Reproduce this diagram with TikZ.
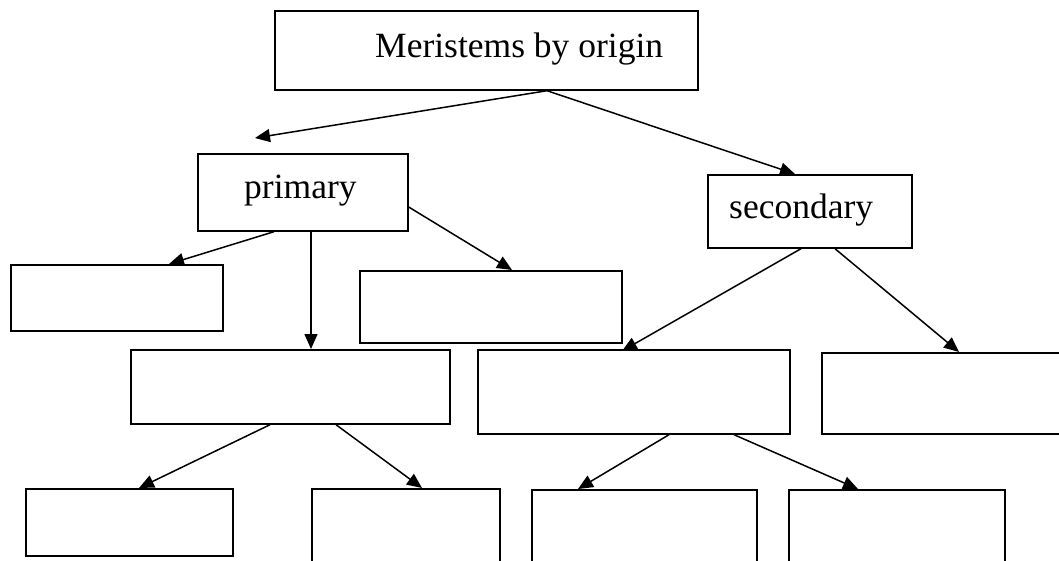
\documentclass[tikz,border=0pt]{standalone}
\usepackage{fontspec}
\setmainfont{Liberation Serif}
\usetikzlibrary{arrows.meta}
\begin{document}
\begin{tikzpicture}[x=1pt,y=-1pt,
  box/.style={draw=black, line width=1.7pt, rectangle, inner sep=0pt, anchor=north west},
  lbl/.style={anchor=base west, inner sep=0pt, font=\fontsize{35.5}{40}\selectfont},
  conn/.style={draw=black, line width=1.5pt, -{Triangle[length=15pt,width=13pt]}}]
\useasboundingbox (0,0) rectangle (1059,560);
% boxes
\node[box, minimum width=423pt, minimum height=79pt] (top) at (274,10) {};
\node[box, minimum width=210pt, minimum height=77pt] (prim) at (197,153) {};
\node[box, minimum width=204pt, minimum height=73pt] (sec) at (707,174) {};
\node[box, minimum width=212pt, minimum height=66pt] (L1) at (10,264) {};
\node[box, minimum width=262pt, minimum height=72pt] (R1) at (359,270) {};
\node[box, minimum width=319pt, minimum height=74pt] (M1) at (130,349) {};
\node[box, minimum width=312pt, minimum height=84pt] (M2) at (477,349) {};
\node[box, minimum width=250pt, minimum height=81pt] (M3) at (821,352) {};
\node[box, minimum width=207pt, minimum height=67pt] (B1) at (25,488) {};
\node[box, minimum width=188pt, minimum height=90pt] (B2) at (311,488) {};
\node[box, minimum width=225pt, minimum height=90pt] (B3) at (531,489) {};
\node[box, minimum width=216pt, minimum height=90pt] (B4) at (788,489) {};
% labels
\node[lbl] (ttop) at (375,57) {Meristems by origin};
\node[lbl] (tprim) at (244,198) {primary};
\node[lbl] (tsec) at (729,218) {secondary};
% connectors
\draw[conn] ([xshift=273pt]top.south west) -- ([xshift=58pt,yshift=15pt]prim.north west);
\draw[conn] ([xshift=273pt]top.south west) -- ([xshift=88pt]sec.north west);
\draw[conn] ([xshift=77pt]prim.south west) -- ([xshift=159pt]L1.north west);
\draw[conn] ([xshift=114pt]prim.south west) -- ([xshift=181pt]M1.north west);
\draw[conn] ([yshift=-54pt]prim.north east) -- ([xshift=153pt]R1.north west);
\draw[conn] ([xshift=94pt]sec.south west) -- ([xshift=145pt,yshift=-2pt]M2.north west);
\draw[conn] ([xshift=128pt]sec.south west) -- ([xshift=138pt]M3.north west);
\draw[conn] ([xshift=140pt]M1.south west) -- ([xshift=114pt]B1.north west);
\draw[conn] ([xshift=206pt]M1.south west) -- ([xshift=111pt]B2.north west);
\draw[conn] ([xshift=192pt]M2.south west) -- ([xshift=47pt]B3.north west);
\draw[conn] ([xshift=257pt]M2.south west) -- ([xshift=70pt]B4.north west);
\end{tikzpicture}
\end{document}
